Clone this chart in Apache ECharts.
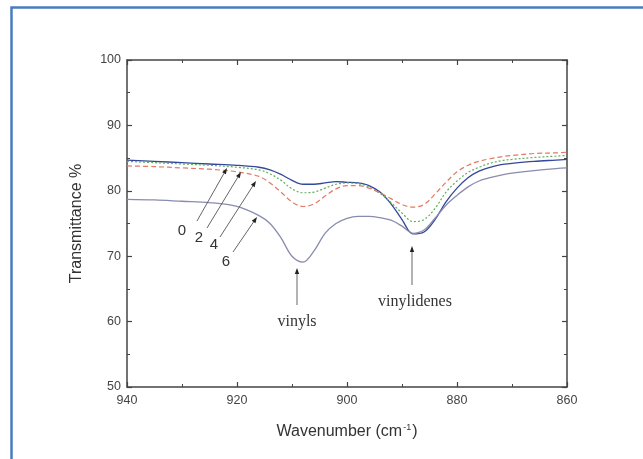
<!DOCTYPE html>
<html>
<head>
<meta charset="utf-8">
<script src="https://cdn.jsdelivr.net/npm/echarts@6/dist/echarts.min.js"></script>
<style>
  html, body { margin: 0; padding: 0; background: #fff; }
  #chart { width: 643px; height: 459px; }
</style>
</head>
<body>
<div id="chart"></div>
<script>
// Wavenumber samples (cm-1), shared by all spectra
const wavenumbers = [940, 935, 930, 925, 920, 916, 914, 912, 910, 908, 906, 904, 902, 900, 898, 896,
                     894, 892, 890, 888, 886, 884, 882, 880, 878, 876, 874, 872, 870, 866, 862, 860];

// Transmittance (%) for each sample
const series0 = [84.7, 84.5, 84.3, 84.1, 83.9, 83.6, 83.2, 82.5, 81.6, 81.0, 81.0, 81.2, 81.4, 81.3, 81.2, 80.8,
                 79.8, 78.0, 75.6, 73.4, 73.7, 75.6, 78.3, 80.4, 82.0, 83.0, 83.6, 84.0, 84.2, 84.5, 84.7, 84.8];
const series2 = [84.5, 84.3, 84.1, 83.9, 83.6, 83.2, 82.6, 81.6, 80.3, 79.7, 79.8, 80.4, 81.0, 81.2, 81.1, 80.6,
                 79.6, 78.2, 76.6, 75.3, 75.6, 77.3, 79.8, 81.5, 82.8, 83.6, 84.2, 84.6, 84.8, 85.1, 85.3, 85.4];
const series4 = [83.8, 83.7, 83.5, 83.3, 82.9, 82.2, 81.2, 79.8, 78.3, 77.6, 78.0, 79.2, 80.3, 80.8, 80.8, 80.4,
                 79.7, 78.8, 77.9, 77.5, 77.9, 79.5, 81.3, 82.9, 83.9, 84.5, 84.9, 85.2, 85.4, 85.7, 85.8, 85.9];
const series6 = [78.7, 78.6, 78.4, 78.2, 77.6, 76.2, 75.0, 72.8, 70.0, 69.1, 70.8, 73.5, 75.0, 75.8, 76.1, 76.1,
                 75.9, 75.5, 74.6, 73.5, 74.0, 75.8, 77.8, 79.3, 80.6, 81.5, 82.0, 82.4, 82.7, 83.1, 83.4, 83.5];

const xTicks = [940, 920, 900, 880, 860];
const yTicks = [50, 60, 70, 80, 90, 100];

const pairs = ys => wavenumbers.map((w, i) => [w, ys[i]]);

const axisColor = '#444';
const sans = 'Liberation Sans, Arial, sans-serif';
const tickFont = { color: '#444', fontSize: 12.5, fontFamily: sans };

const chart = echarts.init(document.getElementById('chart'), null, { renderer: 'canvas' });

function xAxisDef(pos, showLabels) {
  return {
    type: 'value', position: pos, min: 860, max: 940, interval: 20, inverse: true,
    axisLine: { show: true, onZero: false, lineStyle: { color: axisColor, width: 1.5 } },
    axisTick: { show: true, inside: true, length: 5, lineStyle: { color: axisColor, width: 1.2 } },
    minorTick: { show: true, splitNumber: 2, length: 3, lineStyle: { color: axisColor, width: 1 } },
    axisLabel: Object.assign({ show: showLabels, margin: 7 }, tickFont),
    splitLine: { show: false },
    name: showLabels ? 'Wavenumber (cm{sup|-1})' : '',
    nameLocation: 'middle', nameGap: 36,
    nameTextStyle: {
      fontSize: 16, color: '#333', fontFamily: sans,
      rich: { sup: { fontSize: 9, verticalAlign: 'top', padding: [0, 1, 9, 1], color: '#333', fontFamily: sans } }
    }
  };
}
function yAxisDef(pos, showLabels) {
  return {
    type: 'value', position: pos, min: 50, max: 100, interval: 10,
    axisLine: { show: true, onZero: false, lineStyle: { color: axisColor, width: 1.5 } },
    axisTick: { show: true, inside: true, length: 5, lineStyle: { color: axisColor, width: 1.2 } },
    minorTick: { show: true, splitNumber: 2, length: 3, lineStyle: { color: axisColor, width: 1 } },
    axisLabel: Object.assign({ show: showLabels, margin: 6 }, tickFont),
    splitLine: { show: false },
    name: showLabels ? 'Transmittance %' : '',
    nameLocation: 'middle', nameGap: 42,
    nameTextStyle: { fontSize: 16, color: '#333', fontFamily: sans }
  };
}

function line(name, ys, color, type, width) {
  return {
    name, type: 'line', data: pairs(ys), smooth: 0.35, symbol: 'none',
    lineStyle: { color, width, type }, z: 3, silent: true
  };
}

// Annotation arrow: shaft from (x1,y1) to tip (x2,y2) with a small filled head
function arrow(x1, y1, x2, y2) {
  const dx = x2 - x1, dy = y2 - y1, len = Math.hypot(dx, dy);
  const ux = dx / len, uy = dy / len, hl = 6, hw = 2.2;
  const bx = x2 - ux * hl, by = y2 - uy * hl;
  return [
    { type: 'line', shape: { x1, y1, x2: bx, y2: by }, style: { stroke: '#555', lineWidth: 0.9 }, z: 10 },
    { type: 'polygon', shape: { points: [[x2, y2], [bx - uy * hw, by + ux * hw], [bx + uy * hw, by - ux * hw]] },
      style: { fill: '#222' }, z: 10 }
  ];
}

const labelFont = '15px Liberation Sans, Arial, sans-serif';
const serifFont = '16px Liberation Serif, Times New Roman, serif';

const graphics = [
  { type: 'rect', shape: { x: 11.5, y: 7.5, width: 660, height: 480 },
    style: { fill: 'none', stroke: '#4a7cc0', lineWidth: 2.5 }, z: 0 },
  ...arrow(197, 221, 227, 168),
  ...arrow(207, 228, 241, 172),
  ...arrow(220, 237, 256, 181),
  ...arrow(233, 252, 257, 217),
  ...arrow(297, 305, 297, 268),
  ...arrow(412, 285, 412, 246),
  { type: 'text', x: 182, y: 231, style: { text: '0', font: labelFont, fill: '#333', align: 'center', verticalAlign: 'middle' }, z: 10 },
  { type: 'text', x: 199, y: 238, style: { text: '2', font: labelFont, fill: '#333', align: 'center', verticalAlign: 'middle' }, z: 10 },
  { type: 'text', x: 214, y: 245, style: { text: '4', font: labelFont, fill: '#333', align: 'center', verticalAlign: 'middle' }, z: 10 },
  { type: 'text', x: 226, y: 262, style: { text: '6', font: labelFont, fill: '#333', align: 'center', verticalAlign: 'middle' }, z: 10 },
  { type: 'text', x: 297, y: 322, style: { text: 'vinyls', font: serifFont, fill: '#333', align: 'center', verticalAlign: 'middle' }, z: 10 },
  { type: 'text', x: 415, y: 302, style: { text: 'vinylidenes', font: serifFont, fill: '#333', align: 'center', verticalAlign: 'middle' }, z: 10 }
];

chart.setOption({
  animation: false,
  backgroundColor: '#fff',
  grid: { left: 127, right: 76, top: 60, bottom: 72, containLabel: false },
  xAxis: [xAxisDef('bottom', true), xAxisDef('top', false)],
  yAxis: [yAxisDef('left', true), yAxisDef('right', false)],
  series: [
    line('0', series0, '#34479a', 'solid', 1.3),
    line('2', series2, '#5eae5a', [2, 2], 1.2),
    line('4', series4, '#e27a66', [5, 3], 1.2),
    line('6', series6, '#8a8cae', 'solid', 1.3)
  ],
  graphic: graphics
});
</script>
</body>
</html>
